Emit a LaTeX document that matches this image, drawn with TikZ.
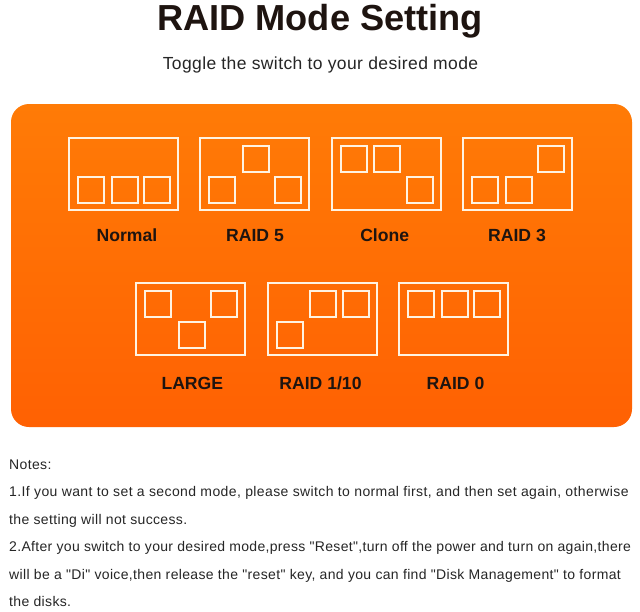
\documentclass[tikz,border=0pt]{standalone}
\usepackage{fontspec}
\setmainfont{Liberation Sans}
\newfontfamily\notefont{Liberation Sans}
\definecolor{paneltop}{HTML}{FF7B06}
\definecolor{panelbot}{HTML}{FF6103}
\definecolor{boxline}{HTML}{FFF3E2}
\definecolor{inkdark}{HTML}{1E1410}
\tikzset{
  panel/.style={rounded corners=18, top color=paneltop, bottom color=panelbot, draw=none},
  bay/.style={draw=boxline, line width=2.2, fill=none, inner sep=0, minimum width=109, minimum height=72, anchor=north west},
  slot/.style={draw=boxline, line width=2.2, fill=none, inner sep=0, minimum width=26, minimum height=26, anchor=north west},
  modelabel/.style={font=\bfseries\fontsize{17.6}{20}\selectfont, text=inkdark, anchor=base},
  noteline/.style={font=\notefont\fontsize{14}{16}\selectfont\addfontfeature{LetterSpace=#1}, text=black!85, anchor=base west, inner sep=0},
  noteline/.default=2.5
}
\begin{document}
\begin{tikzpicture}[x=1pt,y=-1pt]
\useasboundingbox (0,0) rectangle (640,611);
\fill[white] (0,0) rectangle (640,611);

\node[font=\bfseries\fontsize{36.2}{40}\selectfont, text=inkdark, anchor=base] (title) at (320,30) {RAID Mode Setting};
\node[font=\fontsize{17.5}{20}\selectfont\addfontfeature{LetterSpace=2.2}, text=black!85, anchor=base] (subtitle) at (320.5,69) {Toggle the switch to your desired mode};

\path[panel] (11,104) rectangle (632,427);

% bx/by = corner of the bay, then slot offset in each of the three columns, label centre and baseline
\foreach \bx/\by/\sa/\sb/\sc/\lx/\ly/\name in {
  68/137/39/39/39/127/241.3/Normal,
  199/137/39/8/39/255/241.3/RAID 5,
  330.5/137/8/8/39/384.7/241.3/Clone,
  462/137/39/39/8/517/241.3/RAID 3,
  135/281.5/8/39/8/192.3/389.2/LARGE,
  266.5/281.5/39/8/8/320.5/389.2/RAID 1\slash 10,
  398/281.5/8/8/8/455.5/389.2/RAID 0}
{
  \node[bay] (bay) at (\bx,\by) {};
  \node[slot] (sa) at (\bx+9,\by+\sa) {};
  \node[slot] (sb) at (\bx+42.5,\by+\sb) {};
  \node[slot] (sc) at (\bx+75,\by+\sc) {};
  \node[modelabel] (lbl) at (\lx,\ly) {\name};
}

\node[noteline] (n0) at (9,469) {Notes:};
\node[noteline=2.85] (n1) at (9,496) {1.If you want to set a second mode, please switch to normal first, and then set again, otherwise};
\node[noteline] (n2) at (9,524) {the setting will not success.};
\node[noteline=2.3] (n3) at (9,551) {2.After you switch to your desired mode,press "Reset",turn off the power and turn on again,there};
\node[noteline] (n4) at (9,579) {will be a "Di" voice,then release the "reset" key, and you can find "Disk Management" to format};
\node[noteline] (n5) at (9,606) {the disks.};
\end{tikzpicture}
\end{document}
